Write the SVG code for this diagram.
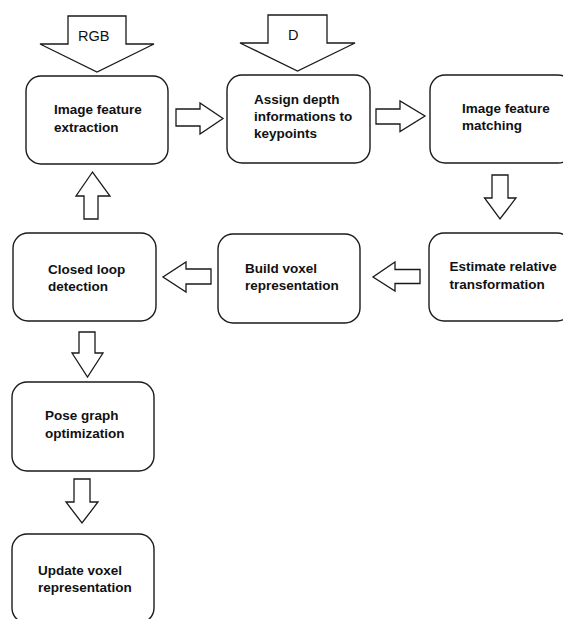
<svg xmlns="http://www.w3.org/2000/svg" width="563" height="619" viewBox="0 0 563 619">
<style>
.box{fill:#fff;stroke:#1a1a1a;stroke-width:1.4}
.arr{fill:#fff;stroke:#1a1a1a;stroke-width:1.3;stroke-linejoin:miter}
.lbl{font-family:"Liberation Sans",Arial,sans-serif;font-weight:bold;font-size:13.5px;fill:#111}
.in{font-family:"Liberation Sans",Arial,sans-serif;font-size:14.5px;fill:#111}
</style>
<rect width="563" height="619" fill="#fff"/>
<g id="connectors">
<polygon class="arr" points="68,16 126,16 126,44 154,44 97,72 40,44 68,44"/>
<text class="in" x="78" y="40.5">RGB</text>
<polygon class="arr" points="268,15 327,15 327,43 355,43 297.5,71 240,43 268,43"/>
<text class="in" x="288" y="39.5">D</text>
<polygon class="arr" points="176,109 200,109 200,103 223,118.5 200,134 200,126 176,126"/>
<polygon class="arr" points="376,109 400,109 400,101 425,116 400,131.5 400,124 376,124"/>
<polygon class="arr" points="492,175 508,175 508,198 516,198 500,219 484.5,198 492,198"/>
<polygon class="arr" points="420,269.5 395,269.5 395,262 373,277 395,291 395,283.5 420,283.5"/>
<polygon class="arr" points="211,269 186,269 186,262 163,277 186,292 186,284 211,284"/>
<polygon class="arr" points="84,219 98,219 98,196 110,196 92.5,172 76,196 84,196"/>
<polygon class="arr" points="79,332 95,332 95,353 103,353 87.5,377 72,353 79,353"/>
<polygon class="arr" points="74,479 90,479 90,502 98,502 82,523 66,502 74,502"/>
</g>
<g id="n1">
<rect class="box" x="26" y="76" width="142" height="88" rx="15"/>
<text class="lbl" x="54" y="114">Image feature</text>
<text class="lbl" x="54" y="131.5">extraction</text>
</g>
<g id="n2">
<rect class="box" x="227" y="75" width="143" height="88" rx="15"/>
<text class="lbl" x="254" y="103.5">Assign depth</text>
<text class="lbl" x="254" y="120.5">informations to</text>
<text class="lbl" x="254" y="137.5">keypoints</text>
</g>
<g id="n3">
<rect class="box" x="430" y="75" width="143" height="88" rx="15"/>
<text class="lbl" x="462" y="113">Image feature</text>
<text class="lbl" x="462" y="130">matching</text>
</g>
<g id="n4">
<rect class="box" x="429" y="233" width="143" height="88" rx="15"/>
<text class="lbl" x="449.5" y="271">Estimate relative</text>
<text class="lbl" x="449.5" y="288.5">transformation</text>
</g>
<g id="n5">
<rect class="box" x="218" y="234" width="142" height="89" rx="15"/>
<text class="lbl" x="245" y="273">Build voxel</text>
<text class="lbl" x="245" y="290">representation</text>
</g>
<g id="n6">
<rect class="box" x="13" y="233" width="143" height="88" rx="15"/>
<text class="lbl" x="48" y="273.5">Closed loop</text>
<text class="lbl" x="48" y="291">detection</text>
</g>
<g id="n7">
<rect class="box" x="12" y="382" width="142" height="89" rx="15"/>
<text class="lbl" x="45" y="420">Pose graph</text>
<text class="lbl" x="45" y="437.5">optimization</text>
</g>
<g id="n8">
<rect class="box" x="12" y="534" width="142" height="89" rx="15"/>
<text class="lbl" x="38" y="575">Update voxel</text>
<text class="lbl" x="38" y="592">representation</text>
</g>
</svg>
